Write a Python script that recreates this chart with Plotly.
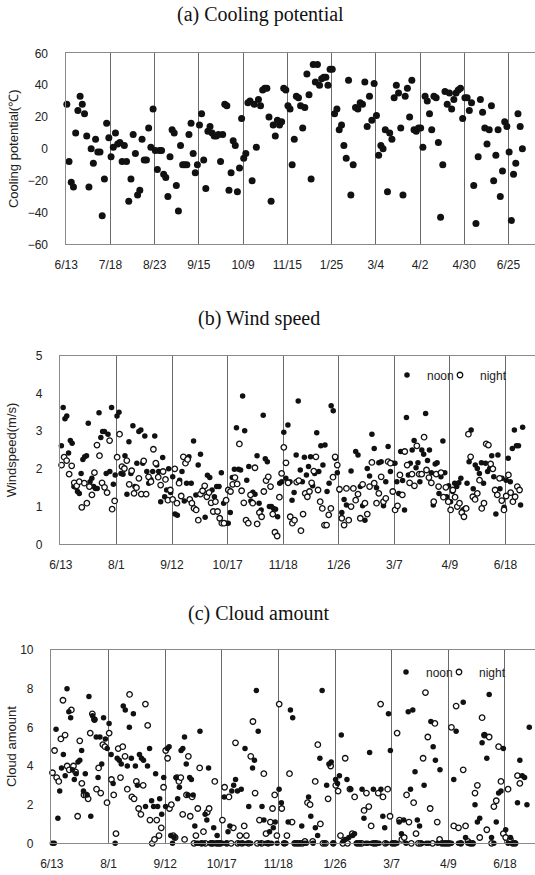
import plotly.graph_objects as go

# ---------------- data ----------------
# Each panel: one list of readings per tick interval (in time order);
# the last list holds the readings after the last labelled date.
cp_ticks = ["6/13", "7/18", "8/23", "9/15", "10/9", "11/15", "1/25", "3/4", "4/2", "4/30", "6/25"]
cooling = [
    [28, -8, -21, -24, 10, 24, 33, 28, 22, 8, -24, 0, -9, 6, -2, -2, -42, -19, 16, 7],
    [-5, 1, 10, 3, 4, -8, 2, -8, -33, -19, 9, -3, -29, -26, 6, -7, -7, 13, 1, 25],
    [-1, -13, -1, -1, -16, -18, -30, -5, 12, 10, -23, -39, 2, -10, -10, -10, 9, 16, -3, -15, -10],
    [15, 22, -7, -25, 11, 14, 10, 8, 8, 9, -8, 9, 28, 27, -26, -15, 5, 2, -27, -12, 19],
    [-6, -3, 29, 30, -20, 28, 1, 31, 27, 37, 38, 38, 20, -33, 15, 8, 18, 15, 17, 38, 37],
    [27, 25, -10, 6, 33, 32, 27, 13, 26, 47, 34, -19, 53, 42, 53, 40, 44, 45, 45, 40, 50],
    [50, 22, 25, 12, 15, 2, -6, 43, -29, -10, 26, 25, 29, 28, 42, 14, 33, 18, 41],
    [21, -4, 2, 0, 12, -27, 10, 6, 32, 40, 35, 13, -29, 33, 38, 20, 43, 12, 11, 13],
    [13, 1, 33, 30, 22, 12, 33, 32, 4, -43, -10, 36, 28, 35, 25, 31, 35, 37, 38, 19],
    [32, 32, 24, 29, -23, -47, -5, 31, 23, 13, 3, 12, 27, -20, -4, 12, -30, -14, 17, 14],
    [-2, -45, -16, -9, 22, 14, 0],
]

wc_ticks = ["6/13", "8/1", "9/12", "10/17", "11/18", "1/26", "3/7", "4/9", "6/18"]
wind_noon = [
    [2.61, 3.63, 3.33, 3.40, 2.42, 2.75, 2.68, 1.53, 1.51, 1.40, 1.35, 1.88, 2.25, 2.32, 2.35, 3.21,
     1.66, 1.75, 1.53, 1.48, 1.48, 3.49, 2.83, 2.99, 2.99, 1.88, 2.92, 1.93, 3.63, 1.59, 1.84],
    [3.40, 3.50, 1.88, 1.86, 2.35, 1.33, 2.72, 1.88, 3.14, 1.53, 2.15, 2.99, 3.03, 2.15, 2.87, 1.93,
     1.62, 1.72, 1.93, 2.87, 2.10, 1.93, 1.13, 2.30, 1.26, 1.44, 2.00, 1.37],
    [1.79, 0.80, 0.77, 1.70, 1.93, 1.15, 1.62, 2.32, 1.62, 2.74, 1.31, 2.10, 2.39, 1.40, 0.72, 1.83,
     1.77, 1.44, 1.26, 1.53, 1.53, 1.90, 1.09, 0.56],
    [0.56, 0.84, 1.77, 1.99, 3.09, 1.99, 1.97, 3.93, 3.01, 1.70, 2.06, 1.15, 1.38, 1.33, 2.35, 1.09,
     0.91, 3.42, 2.27, 2.19, 1.00, 1.00, 0.95, 0.93, 0.73, 1.62, 1.66],
    [2.97, 1.75, 3.16, 1.66, 1.17, 1.37, 2.37, 3.80, 1.97, 1.66, 2.31, 1.84, 2.06, 2.32, 1.55, 1.88,
     2.96, 1.93, 2.61, 2.10, 2.63, 1.40, 1.62, 3.67, 3.54, 2.28, 1.90],
    [1.44, 0.84, 1.19, 1.04, 0.64, 1.94, 1.48, 2.46, 2.37, 1.53, 1.02, 0.64, 2.01, 1.81, 2.92, 2.54,
     1.50, 2.16, 2.19, 1.02, 1.66, 2.59, 1.93, 2.15],
    [2.15, 1.66, 1.35, 2.46, 1.69, 0.91, 3.36, 1.84, 2.15, 2.50, 2.75, 2.03, 2.16, 1.66, 2.50, 2.39,
     3.47, 2.22, 2.50, 1.90, 1.04, 2.13, 2.16, 1.35, 1.79, 2.74, 1.90, 1.26, 1.55],
    [1.13, 1.40, 1.62, 1.53, 1.63, 1.75, 0.91, 0.95, 1.62, 2.19, 3.03, 1.47, 2.10, 2.01, 1.88, 2.16,
     1.62, 2.15, 1.93, 2.01, 2.35, 1.79, 0.80, 2.37, 1.47, 1.75, 0.98],
    [1.70, 2.28, 1.66, 2.54, 3.03, 2.61, 2.61, 1.04, 3.10],
]
wind_night = [
    [2.10, 2.31, 2.22, 1.86, 2.08, 1.63, 1.55, 1.66, 0.98, 1.62, 1.09, 1.53, 1.31, 1.90, 2.63, 2.35,
     1.63, 1.51, 1.37, 2.75, 0.93, 1.15],
    [2.31, 2.92, 2.06, 2.01, 2.22, 1.59, 1.95, 1.35, 1.50, 1.75, 1.33, 2.21, 1.33, 1.79, 1.66, 2.52,
     2.15, 1.78, 1.57, 1.93, 1.72, 1.17, 1.44],
    [1.19, 2.00, 1.09, 1.62, 1.28, 2.32, 2.15, 2.25, 1.19, 1.09, 0.95, 0.91, 0.64, 1.33, 1.42, 1.55,
     1.26, 1.37, 1.10, 0.87, 1.13, 0.87, 0.69, 0.56, 0.56, 1.17],
    [1.44, 1.40, 1.59, 1.77, 1.60, 2.66, 1.42, 1.10, 0.64, 0.56, 1.31, 1.09, 2.03, 0.54, 0.84, 0.73,
     1.40, 1.69, 1.79, 1.53, 0.80, 0.32, 0.22, 1.25, 1.88],
    [2.57, 2.16, 1.63, 0.73, 0.56, 0.64, 1.65, 1.69, 0.36, 0.80, 1.35, 1.26, 1.40, 1.63, 1.94, 2.32,
     1.44, 1.13, 0.95, 0.51, 0.51, 0.78, 0.95, 1.78, 2.32, 2.10],
    [1.46, 0.69, 0.51, 1.48, 0.64, 1.00, 1.48, 1.17, 1.33, 0.69, 1.59, 1.09, 0.80, 1.53, 2.17, 1.62,
     1.09, 1.35, 1.79, 1.13, 1.22, 2.19, 2.15, 1.40],
    [0.91, 1.02, 1.84, 1.31, 2.46, 2.10, 1.63, 1.86, 1.55, 2.61, 1.86, 1.86, 2.84, 1.97, 1.77, 1.63,
     1.13, 1.86, 1.53, 1.90, 1.25, 1.51, 1.13],
    [0.91, 1.44, 1.25, 1.00, 1.09, 0.84, 0.73, 0.95, 2.92, 2.32, 1.26, 1.19, 1.35, 1.70, 0.95, 1.09,
     2.66, 2.63, 2.13, 2.00, 1.44, 1.31, 1.75, 1.16, 0.91],
    [1.28, 1.84, 1.37, 1.13, 1.26, 1.53, 1.44],
]

cloud_noon = [
    [0, 0, 5.9, 1.3, 2.7, 3.9, 4.6, 3.5, 8.0, 6.8, 6.5, 3.8, 3.3, 3.6, 4.2, 4.3, 4.8, 2.7, 3.6, 2.5,
     7.6, 1.4, 6.6, 6.4, 5.5, 3.4, 5.5, 4.1, 6.5, 5.4, 4.9],
    [6.2, 4.6, 3.1, 0, 4.4, 4.3, 4.1, 7.1, 6.9, 4.0, 6.0, 4.4, 6.7, 4.0, 3.0, 4.6, 4.4, 4.3, 1.9, 4.0,
     4.9, 2.2, 1.9, 3.6, 1.9, 2.3, 1.5, 3.4],
    [1.9, 4.9, 5.0, 0.4, 0, 0.3, 3.4, 2.3, 2.9, 4.8, 4.9, 5.5, 4.1, 2.5, 3.4, 3.3, 2.5, 0.9, 0, 0,
     5.8, 0, 0, 1.5, 1.2, 3.9, 0, 0, 0.8, 0, 0.4, 0, 0],
    [0, 2.4, 0, 0.6, 0.9, 2.7, 3.0, 3.3, 2.7, 0, 2.8, 0, 4.9, 0, 1.9, 0, 3.9, 4.3, 7.9, 5.8, 0, 1.9,
     1.2, 0, 0, 0.6, 0, 0.8, 1.1, 0],
    [2.8, 2.1, 0, 0, 1.1, 6.9, 6.5, 0, 0, 0, 0.9, 0, 0, 2.4, 1.4, 0, 0.8, 0.4, 4.4, 7.9, 0, 3.0, 4.1,
     4.2, 0],
    [3.3, 3.1, 3.5, 5.6, 0.1, 0.2, 3.3, 0.3, 2.8, 0.4, 0.5, 0, 0, 0, 2.8, 1.3, 0, 0, 4.7, 0, 2.8, 0, 0,
     0, 2.8, 1.4, 0.8, 0, 6.7, 4.8],
    [0, 0, 0, 1.1, 0.5, 1.2, 0, 6.8, 2.8, 6.9, 3.7, 1.2, 0.9, 0, 3.0, 0, 0, 6.3, 5.0, 4.3, 0, 3.8, 0,
     0, 0],
    [0, 0, 3.3, 5.8, 0, 0, 7.3, 0.3, 0, 0, 0, 2.0, 1.1, 1.3, 5.2, 5.6, 4.4, 7.7, 0.3, 0, 1.1, 2.6, 2.7,
     4.9],
    [0.7, 0, 0.3, 0, 0, 2.1, 4.3, 3.5, 3.4, 2.0, 6.0],
]
cloud_night = [
    [3.65, 4.8, 3.4, 3.2, 5.4, 7.4, 5.6, 4.0, 3.8, 6.9, 4.0, 3.7, 1.4, 5.3, 3.1, 2.5, 2.5, 2.3, 5.7,
     6.7, 6.4, 2.8, 3.9, 2.6, 5.1, 5.0, 2.1],
    [5.7, 3.3, 2.5, 0.5, 4.9, 3.4, 5.0, 4.5, 2.8, 7.7, 2.4, 2.3, 3.2, 1.8, 1.5, 3.0, 7.2, 6.1, 1.2, 0,
     0.2, 1.2, 0.4, 0.8, 2.9],
    [4.8, 4.4, 1.8, 2.0, 0.4, 0.3, 3.4, 3.2, 3.4, 1.5, 0.2, 2.5, 4.5, 1.4, 2.4, 0, 0.4, 1.8, 3.9, 0,
     0.6, 0, 1.6, 1.8, 0, 0, 3.2, 0, 0, 0],
    [1.2, 2.9, 0, 2.4, 0, 0.8, 5.2, 0, 0.4, 0, 0.9, 0.4, 0, 4.5, 6.3, 2.6, 0, 1.2, 0, 3.6, 0.5, 0,
     1.1, 1.8, 2.5, 0.4],
    [7.2, 1.8, 0, 0.4, 3.6, 1.1, 0, 0, 0, 0, 0.1, 2.1, 2.0, 0.1, 3.2, 5.1, 1.0, 0, 0, 2.3, 4.0, 0],
    [3.0, 2.7, 0.4, 0, 4.4, 0, 2.8, 0.5, 2.4, 0, 0, 0, 1.7, 2.6, 1.9, 0.9, 0, 0, 2.6, 7.2, 2.4, 0,
     2.8, 1.4],
    [0, 0, 5.7, 1.2, 0.2, 0.3, 2.5, 1.1, 0, 2.1, 0.5, 0, 0, 4.4, 7.8, 5.5, 1.8, 0, 6.2, 1.1, 0.2, 0,
     0, 0],
    [0, 6.0, 0.9, 7.1, 0.8, 0, 3.8, 0.9, 0.1, 0, 0, 2.6, 3.0, 0.3, 6.5, 5.6, 0.7, 5.5, 0, 1.9, 2.2,
     5.0, 3.2, 0.5],
    [0.3, 2.8, 0.2, 0, 0, 3.5, 3.1],
]


def spread(groups):
    """Place readings in order along the axis: interval j spans [j, j+1]."""
    xs, ys = [], []
    for j, g in enumerate(groups):
        n = len(g)
        span = 1.0 if j < len(groups) - 1 else n / len(groups[j - 1])
        for k, v in enumerate(g):
            xs.append(j + span * (k + 0.3) / n)
            ys.append(v)
    return xs, ys


W, H = 535, 875
SANS = "Liberation Sans"
SERIF = "Liberation Serif"
INK = "#111111"


def px_x(p):
    return p / W


def px_y(p):
    return 1 - p / H


NOON_MARK = dict(color=INK, size=5.5)
NIGHT_MARK = dict(color="white", size=5.5, line=dict(color=INK, width=1.3))

fig = go.Figure()

ax, ay = spread(cooling)
fig.add_trace(go.Scatter(x=ax, y=ay, mode="markers", showlegend=False, cliponaxis=False,
                         marker=dict(color=INK, size=7), xaxis="x", yaxis="y"))

# (b) wind speed: noon first, night on top
bx, by = spread(wind_noon)
fig.add_trace(go.Scatter(x=bx, y=by, mode="markers", name="noon", legend="legend", legendwidth=8,
                         cliponaxis=False, marker=NOON_MARK, xaxis="x2", yaxis="y2"))
bx, by = spread(wind_night)
fig.add_trace(go.Scatter(x=bx, y=by, mode="markers", name="night", legend="legend", legendwidth=34,
                         cliponaxis=False, marker=NIGHT_MARK, xaxis="x2", yaxis="y2"))

# (c) cloud amount: night first, noon on top (solid band at zero)
cx, cy = spread(cloud_night)
fig.add_trace(go.Scatter(x=cx, y=cy, mode="markers", name="night", legend="legend2", legendwidth=34,
                         legendrank=2, cliponaxis=False, marker=NIGHT_MARK, xaxis="x3", yaxis="y3"))
cx, cy = spread(cloud_noon)
fig.add_trace(go.Scatter(x=cx, y=cy, mode="markers", name="noon", legend="legend2", legendwidth=8,
                         legendrank=1, cliponaxis=False, marker=NOON_MARK, xaxis="x3", yaxis="y3"))


def xaxis(left_px, ticks, xmax, anchor):
    return dict(domain=[px_x(left_px), 1.0], range=[-0.015, xmax], anchor=anchor, automargin=False,
                tickmode="array", tickvals=list(range(len(ticks))), ticktext=ticks,
                showgrid=True, gridcolor="#6a6a6a", gridwidth=1, zeroline=False,
                showline=True, mirror=True, linecolor="#8a8a8a", linewidth=1.2,
                ticks="outside", ticklen=9, tickcolor="rgba(0,0,0,0)",
                tickfont=dict(family=SANS, size=12, color="#222"))


def yaxis(top_px, bottom_px, rng, dtick, title, standoff, anchor):
    return dict(domain=[px_y(bottom_px), px_y(top_px)], range=rng, anchor=anchor, automargin=False,
                dtick=dtick, showgrid=False, zeroline=False,
                showline=True, mirror=True, linecolor="#8a8a8a", linewidth=1.2,
                ticks="outside", ticklen=14, tickcolor="rgba(0,0,0,0)",
                tickfont=dict(family=SANS, size=12, color="#222"),
                title=dict(text=title, font=dict(family=SANS, size=13, color="#222"),
                           standoff=standoff))


legend_style = dict(orientation="h", xanchor="left", yanchor="middle",
                    bgcolor="rgba(0,0,0,0)", font=dict(family=SANS, size=12, color="#222"),
                    itemwidth=30, tracegroupgap=0, traceorder="normal")

fig.update_layout(
    width=W, height=H, margin=dict(l=0, r=0, t=0, b=0),
    paper_bgcolor="white", plot_bgcolor="white",
    xaxis=xaxis(65.5, cp_ticks, 10.6, "y"),
    yaxis=yaxis(53.3, 244.3, [-60, 60], 20, "Cooling potential(℃)", 6, "x"),
    xaxis2=xaxis(60, wc_ticks, 8.53, "y2"),
    yaxis2=yaxis(355.7, 544.3, [0, 5], 1, "Windspeed(m/s)", 16, "x2"),
    xaxis3=xaxis(51, wc_ticks, 8.53, "y3"),
    yaxis3=yaxis(650, 843.3, [0, 10], 2, "Cloud amount", 0, "x3"),
    legend=dict(legend_style, x=px_x(387), y=px_y(375)),
    legend2=dict(legend_style, x=px_x(386), y=px_y(672)),
    annotations=[
        dict(text="(a) Cooling potential", x=px_x(260), y=px_y(15), xref="paper", yref="paper",
             yanchor="middle", showarrow=False, font=dict(family=SERIF, size=20, color=INK)),
        dict(text="(b) Wind speed", x=px_x(259), y=px_y(318), xref="paper", yref="paper",
             yanchor="middle", showarrow=False, font=dict(family=SERIF, size=20, color=INK)),
        dict(text="(c) Cloud amount", x=px_x(259), y=px_y(613), xref="paper", yref="paper",
             yanchor="middle", showarrow=False, font=dict(family=SERIF, size=20, color=INK)),
    ],
)

fig.write_html("out.html", config={"displayModeBar": False},
               post_script="document.body.style.margin='0';")
